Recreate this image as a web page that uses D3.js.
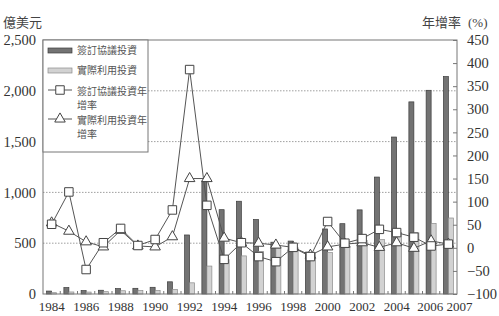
<!DOCTYPE html>
<html>
<head>
<meta charset="utf-8">
<script src="https://cdn.jsdelivr.net/npm/d3@7"></script>
<style>
  body { margin: 0; background: #fff; }
  svg { display: block; }
</style>
</head>
<body>
<div id="chart"></div>
<script>
var width = 499, height = 316;

// data, 億美元 and %
var years = d3.range(1984, 2008);
var contracted = [29, 63, 33, 37, 53, 56, 66, 120, 581, 1111, 830, 913, 733, 510, 521, 412,
                  640, 692, 828, 1151, 1545, 1891, 2005, 2140];
var actual = [13, 20, 19, 23, 32, 34, 35, 44, 110, 275, 338, 375, 417, 453, 455, 403,
              407, 469, 527, 535, 606, 603, 695, 748];
var contractedGrowth = [51, 121, -47, 11, 42, 5, 18, 82, 386, 92, -25, 11, -19, -30, 1, -19,
                        57, 10, 20, 40, 33, 23, 4, 8];
var actualGrowth = [54, 36, 13, 2, 38, 4, 2, 24, 150, 150, 21, 11, 10, 6, 1, -16,
                    2, 8, 11, 1, 11, -1, 15, 8];
var leftTicks = [0, 500, 1000, 1500, 2000, 2500];
var rightTicks = d3.range(-100, 451, 50);
var yearLabels = [1984, 1986, 1988, 1990, 1992, 1994, 1996, 1998, 2000, 2002, 2004, 2006, 2007];
var seriesNames = ["簽訂協議投資", "實際利用投資", "簽訂協議投資年增率", "實際利用投資年增率"];

var margin = {top: 40, right: 42, bottom: 22, left: 43};
var numFont = "'Liberation Serif','DejaVu Serif',serif";
var cjkFont = "'Noto Sans CJK TC','Noto Sans CJK SC',sans-serif";

var svg = d3.select('#chart').append('svg')
    .attr('width', width)
    .attr('height', height);

var x = d3.scaleBand()
    .domain(years)
    .range([margin.left, width - margin.right]);

var xSub = d3.scaleBand()
    .domain(['c', 'a'])
    .range([x.bandwidth() / 2 - 5, x.bandwidth() / 2 + 5]);

var y = d3.scaleLinear()
    .domain([0, 2500])
    .range([height - margin.bottom, margin.top]);

var yR = d3.scaleLinear()
    .domain([-100, 450])
    .range([height - margin.bottom, margin.top]);

// dotted grid
svg.append('g').selectAll('line')
    .data(leftTicks.slice(1, -1))
    .join('line')
    .attr('x1', margin.left).attr('x2', width - margin.right)
    .attr('y1', d => y(d)).attr('y2', d => y(d))
    .attr('stroke', '#888')
    .attr('stroke-width', 0.8)
    .attr('stroke-dasharray', '1.5,1.5');

// bars
var groups = svg.append('g').selectAll('g')
    .data(years)
    .join('g')
    .attr('transform', d => 'translate(' + x(d) + ',0)');

groups.append('rect')
    .attr('x', xSub('c'))
    .attr('width', xSub.bandwidth())
    .attr('y', (d, i) => y(contracted[i]))
    .attr('height', (d, i) => y(0) - y(contracted[i]))
    .attr('fill', '#737373')
    .attr('stroke', '#3c3c3c')
    .attr('stroke-width', 0.7);

groups.append('rect')
    .attr('x', xSub('a'))
    .attr('width', xSub.bandwidth())
    .attr('y', (d, i) => y(actual[i]))
    .attr('height', (d, i) => y(0) - y(actual[i]))
    .attr('fill', '#d2d2d2')
    .attr('stroke', '#8c8c8c')
    .attr('stroke-width', 0.7);

// lines
var cx = d => x(d) + x.bandwidth() / 2;

var lineFunc = function(vals) {
    return d3.line()
        .x(function(d, i) { return cx(years[i]); })
        .y(function(d) { return yR(d); })(vals);
};

svg.append('path')
    .attr('d', lineFunc(contractedGrowth))
    .attr('fill', 'none').attr('stroke', '#555').attr('stroke-width', 1);
svg.append('path')
    .attr('d', lineFunc(actualGrowth))
    .attr('fill', 'none').attr('stroke', '#555').attr('stroke-width', 1);

var squareSym = d3.symbol().type(d3.symbolSquare).size(72);
var triSym = d3.symbol().type(d3.symbolTriangle).size(48);

svg.append('g').selectAll('path')
    .data(actualGrowth)
    .join('path')
    .attr('d', triSym)
    .attr('transform', (d, i) => 'translate(' + cx(years[i]) + ',' + yR(d) + ')')
    .attr('fill', '#fff').attr('stroke', '#444').attr('stroke-width', 1);

svg.append('g').selectAll('path')
    .data(contractedGrowth)
    .join('path')
    .attr('d', squareSym)
    .attr('transform', (d, i) => 'translate(' + cx(years[i]) + ',' + yR(d) + ')')
    .attr('fill', '#fff').attr('stroke', '#444').attr('stroke-width', 1);

// frame
svg.append('rect')
    .attr('x', margin.left).attr('y', margin.top)
    .attr('width', width - margin.left - margin.right)
    .attr('height', height - margin.top - margin.bottom)
    .attr('fill', 'none').attr('stroke', '#777').attr('stroke-width', 1);

// left axis
var leftAxis = svg.append('g')
    .attr('transform', 'translate(' + margin.left + ',0)')
    .call(d3.axisLeft(y).tickValues(leftTicks).tickSize(0).tickPadding(7)
        .tickFormat(d3.format(',')));
leftAxis.select('.domain').remove();
leftAxis.selectAll('text')
    .attr('font-family', numFont).attr('font-size', 14.5).attr('fill', '#333');

// right axis
var rightAxis = svg.append('g')
    .attr('transform', 'translate(' + (width - margin.right) + ',0)')
    .call(d3.axisRight(yR).tickValues(rightTicks).tickSize(-4).tickPadding(10));
rightAxis.select('.domain').remove();
rightAxis.selectAll('line').attr('stroke', '#777');
rightAxis.selectAll('text')
    .attr('font-family', numFont).attr('font-size', 14.5).attr('fill', '#333');

// bottom axis
var bottomAxis = svg.append('g')
    .attr('transform', 'translate(0,' + (height - margin.bottom) + ')')
    .call(d3.axisBottom(x).tickValues(yearLabels).tickSize(0).tickPadding(8));
bottomAxis.select('.domain').remove();
bottomAxis.selectAll('text')
    .attr('font-family', numFont).attr('font-size', 13).attr('fill', '#333')
    .attr('dx', d => d === 2007 ? 11 : (d === 2006 ? -1 : 0));

svg.append('g').selectAll('line')
    .data(years.slice(1))
    .join('line')
    .attr('x1', d => x(d)).attr('x2', d => x(d))
    .attr('y1', height - margin.bottom).attr('y2', height - margin.bottom - 3)
    .attr('stroke', '#777');

// axis titles
svg.append('text')
    .attr('x', 3).attr('y', 27)
    .attr('font-family', cjkFont).attr('font-size', 13).attr('fill', '#444')
    .text('億美元');
svg.append('text')
    .attr('x', 461).attr('y', 27)
    .attr('text-anchor', 'end')
    .attr('font-family', cjkFont).attr('font-size', 13).attr('fill', '#444')
    .text('年增率');
svg.append('text')
    .attr('x', 468).attr('y', 27)
    .attr('font-family', numFont).attr('font-size', 13).attr('fill', '#444')
    .text('(%)');

// legend
var legend = svg.append('g').attr('transform', 'translate(' + margin.left + ',' + margin.top + ')');
legend.append('rect')
    .attr('width', 105).attr('height', 112)
    .attr('fill', '#fff').attr('stroke', '#777').attr('stroke-width', 1);

legend.append('rect').attr('x', 5).attr('y', 8).attr('width', 24).attr('height', 5)
    .attr('fill', '#737373').attr('stroke', '#3c3c3c').attr('stroke-width', 0.7);
legend.append('rect').attr('x', 5).attr('y', 28).attr('width', 24).attr('height', 5)
    .attr('fill', '#d2d2d2').attr('stroke', '#8c8c8c').attr('stroke-width', 0.7);

legend.append('line').attr('x1', 5).attr('x2', 29).attr('y1', 50).attr('y2', 50)
    .attr('stroke', '#555');
legend.append('path').attr('d', squareSym)
    .attr('transform', 'translate(17,50)')
    .attr('fill', '#fff').attr('stroke', '#444');
legend.append('line').attr('x1', 5).attr('x2', 29).attr('y1', 79).attr('y2', 79)
    .attr('stroke', '#555');
legend.append('path').attr('d', triSym)
    .attr('transform', 'translate(17,79)')
    .attr('fill', '#fff').attr('stroke', '#444');

var legText = [
    {t: seriesNames[0], y: 14},
    {t: seriesNames[1], y: 34},
    {t: seriesNames[2].slice(0, 7), y: 55},
    {t: seriesNames[2].slice(7), y: 69},
    {t: seriesNames[3].slice(0, 7), y: 84},
    {t: seriesNames[3].slice(7), y: 98}
];
legend.selectAll('text.leg')
    .data(legText)
    .join('text')
    .attr('class', 'leg')
    .attr('x', 34).attr('y', d => d.y)
    .attr('font-family', cjkFont).attr('font-size', 10).attr('fill', '#555')
    .text(d => d.t);
</script>
</body>
</html>
